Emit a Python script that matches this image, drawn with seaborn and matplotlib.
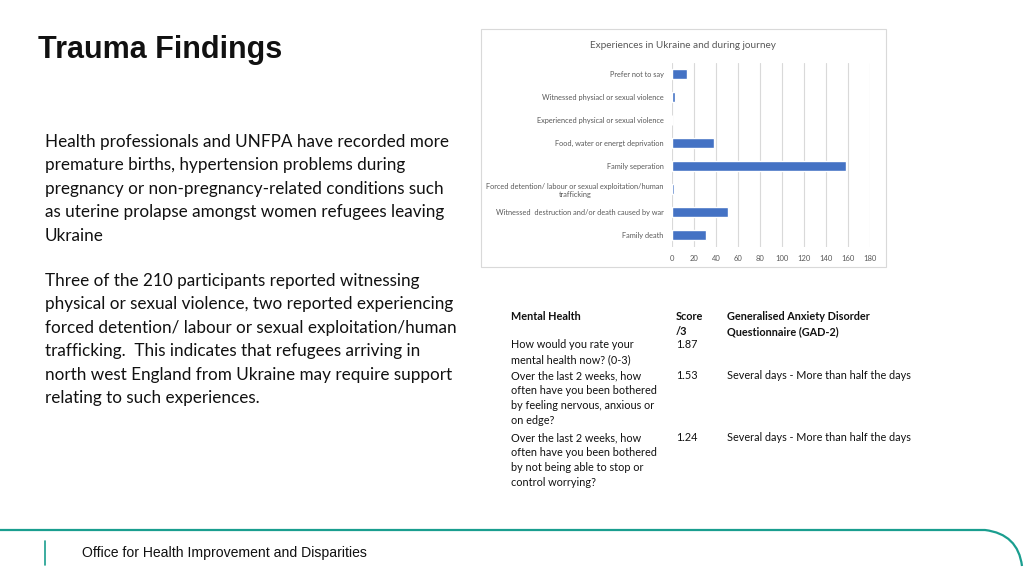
import matplotlib
matplotlib.use("Agg")
import matplotlib.pyplot as plt
import seaborn as sns
from matplotlib.patches import Rectangle
from matplotlib.lines import Line2D
from matplotlib.path import Path
from matplotlib.patches import PathPatch

# ---- data ----
categories = [
    "Prefer not to say",
    "Witnessed physiacl or sexual violence",
    "Experienced physical or sexual violence",
    "Food, water or energt deprivation",
    "Family seperation",
    "Forced detention/ labour or sexual exploitation/human\ntrafficking",
    "Witnessed  destruction and/or death caused by war",
    "Family death",
]
counts = [14, 3, 0, 38, 158, 2, 51, 31]
x_ticks = [0, 20, 40, 60, 80, 100, 120, 140, 160, 180]

table_header = ["Mental Health", "Score\n/3", "Generalised Anxiety Disorder\nQuestionnaire (GAD-2)"]
questions = [
    "How would you rate your\nmental health now? (0-3)",
    "Over the last 2 weeks, how\noften have you been bothered\nby feeling nervous, anxious or\non edge?",
    "Over the last 2 weeks, how\noften have you been bothered\nby not being able to stop or\ncontrol worrying?",
]
scores = ["1.87", "1.53", "1.24"]
gad = ["", "Several days - More than half the days", "Several days - More than half the days"]

para1 = ("Health professionals and UNFPA have recorded more\n"
         "premature births, hypertension problems during\n"
         "pregnancy or non-pregnancy-related conditions such\n"
         "as uterine prolapse amongst women refugees leaving\n"
         "Ukraine")
para2 = ("Three of the 210 participants reported witnessing\n"
         "physical or sexual violence, two reported experiencing\n"
         "forced detention/ labour or sexual exploitation/human\n"
         "trafficking.  This indicates that refugees arriving in\n"
         "north west England from Ukraine may require support\n"
         "relating to such experiences.")

W, H = 1024, 576
BAR = "#4472C4"
GREY = "#595959"
TEAL = "#1a9e8f"

sns.set_theme(style="white")
plt.rcParams["font.family"] = ["Lato", "DejaVu Sans"]

fig = plt.figure(figsize=(W / 100, H / 100), dpi=100)
fig.patch.set_facecolor("white")


def fx(px):
    return px / W


def fy(py):
    return 1 - py / H


# ---- slide text ----
fig.text(fx(38), fy(50), "Trauma Findings", fontsize=22, fontweight="bold",
         family="Liberation Sans", color="#111111", va="center")
fig.text(fx(45), fy(134), para1, fontsize=12.35, va="top", linespacing=1.57, color="#111111")
fig.text(fx(45), fy(273), para2, fontsize=12.35, va="top", linespacing=1.57, color="#111111")

# ---- chart box ----
fig.add_artist(Rectangle((fx(481), fy(267)), fx(886) - fx(481), fy(29) - fy(267),
                         transform=fig.transFigure, fill=False, edgecolor="#d9d9d9", lw=0.8))
fig.text(fx(683), fy(45), "Experiences in Ukraine and during journey", fontsize=7.2,
         color=GREY, ha="center", va="center")

ax = fig.add_axes([fx(672), fy(246.5), fx(870) - fx(672), fy(62.5) - fy(246.5)])
sns.barplot(x=counts, y=categories, color=BAR, orient="h", width=0.42, ax=ax,
            saturation=1, zorder=3)
ax.set_xlim(0, 180)
ax.set_xticks(x_ticks)
ax.set_xticklabels([str(t) for t in x_ticks], fontsize=5.5, color=GREY)
ax.tick_params(axis="y", labelsize=5.3, labelcolor=GREY, length=0, pad=6)
ax.tick_params(axis="x", length=0, pad=6)
for lbl in ax.get_yticklabels():
    lbl.set_multialignment("center")
ax.grid(axis="x", color="#d9d9d9", lw=0.8, zorder=0)
ax.set_axisbelow(True)
for s in ax.spines.values():
    s.set_visible(False)
ax.set_xlabel("")
ax.set_ylabel("")

# ---- table ----
cols_x = [511, 676, 727]
fs = 7.8
ls = 1.45
for cx, txt in zip(cols_x, table_header):
    fig.text(fx(cx), fy(311), txt, fontsize=fs, fontweight="bold", va="top",
             linespacing=ls, color="#111111")
row_y = [339, 370, 432]
for ry, q, s, g in zip(row_y, questions, scores, gad):
    fig.text(fx(cols_x[0]), fy(ry), q, fontsize=fs, va="top", linespacing=ls, color="#111111")
    fig.text(fx(cols_x[1]), fy(ry), s, fontsize=fs, va="top", color="#111111")
    if g:
        fig.text(fx(cols_x[2]), fy(ry), g, fontsize=fs, va="top", color="#111111")

# ---- footer ----
verts = [(fx(0), fy(530)), (fx(985), fy(530)), (fx(1018), fy(534)), (fx(1022), fy(566))]
codes = [Path.MOVETO, Path.LINETO, Path.CURVE3, Path.CURVE3]
fig.add_artist(PathPatch(Path(verts, codes), transform=fig.transFigure, fill=False,
                         edgecolor=TEAL, lw=1.6))
fig.add_artist(Line2D([fx(45), fx(45)], [fy(541), fy(565)], transform=fig.transFigure,
                      color=TEAL, lw=1.2))
fig.text(fx(82), fy(553), "Office for Health Improvement and Disparities", fontsize=10.1,
         family="Liberation Sans", color="#111111", va="center")

fig.savefig("out.png", dpi=100)
